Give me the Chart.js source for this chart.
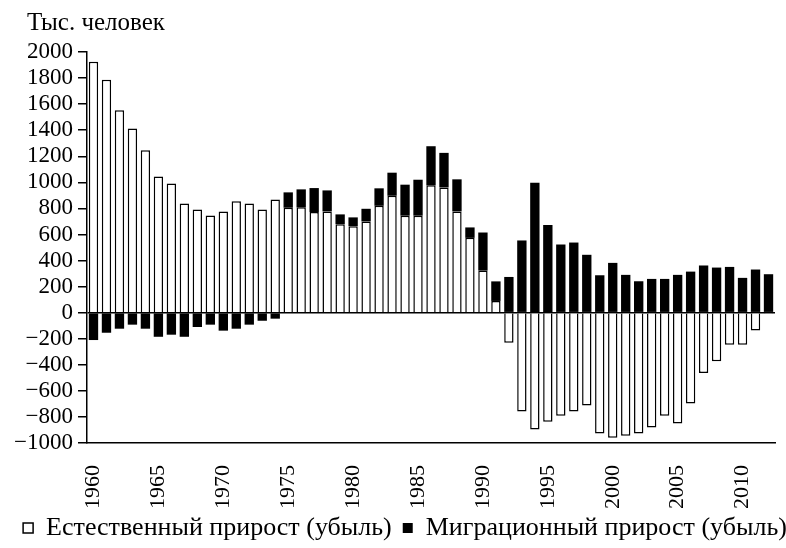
<!DOCTYPE html>
<html>
<head>
<meta charset="utf-8">
<script src="https://cdn.jsdelivr.net/npm/chart.js@4"></script>
<style>
  html, body { margin: 0; padding: 0; background: #fff; }
  #wrap { width: 786px; height: 548px; }
</style>
</head>
<body>
<div id="wrap"><canvas id="popChart" width="786" height="548"></canvas></div>
<script>
// Years on the x axis
const years = [
  1960, 1961, 1962, 1963, 1964, 1965, 1966, 1967, 1968, 1969,
  1970, 1971, 1972, 1973, 1974, 1975, 1976, 1977, 1978, 1979,
  1980, 1981, 1982, 1983, 1984, 1985, 1986, 1987, 1988, 1989,
  1990, 1991, 1992, 1993, 1994, 1995, 1996, 1997, 1998, 1999,
  2000, 2001, 2002, 2003, 2004, 2005, 2006, 2007, 2008, 2009,
  2010, 2011, 2012
];

// Natural growth (decline), thousand people
const naturalGrowth = [
  1926, 1787, 1554, 1413, 1246, 1044, 992, 838, 792, 746,
  777, 854, 838, 792, 869, 805, 808, 772, 777, 679,
  664, 700, 820, 897, 744, 744, 977, 961, 777, 574,
  323, 90, -231, -759, -897, -836, -790, -759, -713, -928,
  -959, -944, -928, -882, -790, -851, -697, -462, -372, -246,
  -246, -136, -4
];

// Migration growth (decline), thousand people
const migrationGrowth = [
  -210, -154, -123, -92, -123, -185, -169, -185, -110, -92,
  -138, -123, -92, -62, -46, 118, 138, 184, 161, 75,
  67, 97, 134, 177, 238, 276, 300, 265, 246, 80,
  292, 150, 274, 554, 997, 672, 523, 538, 444, 287,
  382, 290, 241, 259, 259, 290, 315, 362, 346, 351,
  267, 331, 295
];

const yMin = -1000;
const yMax = 2000;
const yStep = 200;
const unitLabel = 'Тыс. человек';

const serif = "'Liberation Serif', 'Times New Roman', serif";

// Unit caption in the top left corner (left of the axis labels)
const unitCaption = {
  id: 'unitCaption',
  afterLayout(chart) {
    // nudge the legend a bit to the right, like in the original
    chart.legend.left += 12;
    chart.legend.right += 12;
    // let the rotated year labels run a little below the axis box
    chart.scales.x.bottom += 20;
  },
  afterDraw(chart) {
    const c = chart.ctx;
    c.save();
    c.fillStyle = '#000';
    c.font = '25px ' + serif;
    c.textAlign = 'left';
    c.textBaseline = 'alphabetic';
    c.fillText(unitLabel, 27, 30);
    c.restore();
  }
};

const ctx = document.getElementById('popChart').getContext('2d');
const popChart = new Chart(ctx, {
  type: 'bar',
  data: {
    labels: years,
    datasets: [{
      label: 'Естественный прирост (убыль)',
      data: naturalGrowth,
      backgroundColor: '#ffffff',
      borderColor: '#000000',
      borderWidth: 1.5,
      stack: 'total'
    }, {
      label: 'Миграционный прирост (убыль)',
      data: migrationGrowth,
      backgroundColor: '#000000',
      borderColor: '#000000',
      borderWidth: 0,
      stack: 'total'
    }]
  },
  plugins: [unitCaption],
  options: {
    responsive: false,
    animation: false,
    layout: { padding: { left: 0, right: 0, top: 52, bottom: -3 } },
    datasets: {
      bar: { categoryPercentage: 1, barPercentage: 0.72 }
    },
    plugins: {
      title: { display: false },
      legend: {
        position: 'bottom',
        labels: {
          color: '#000',
          font: { family: serif, size: 26 },
          usePointStyle: true,
          pointStyle: 'rect',
          boxWidth: 10,
          boxHeight: 10,
          padding: 11
        }
      },
      tooltip: { enabled: false }
    },
    scales: {
      x: {
        stacked: true,
        offset: true,
        grid: { display: false },
        border: { display: true, color: '#000', width: 1.5 },
        afterFit: function(scale) {
          scale.height = 61;
          scale.paddingLeft = 0;
          scale.paddingRight = 11;
        },
        ticks: {
          autoSkip: false,
          minRotation: 90,
          maxRotation: 90,
          padding: 14,
          color: '#000',
          font: { family: serif, size: 22 },
          callback: function(value, index) {
            const y = years[index];
            return y % 5 === 0 ? String(y) : '';
          }
        }
      },
      y: {
        stacked: true,
        min: yMin,
        max: yMax,
        afterFit: function(scale) { scale.width = 87; },
        grid: {
          drawOnChartArea: true,
          color: function(c) { return c.tick && c.tick.value === 0 ? '#000' : 'rgba(0,0,0,0)'; },
          tickColor: '#000',
          tickLength: 9,
          lineWidth: 1.5
        },
        border: { display: true, color: '#000', width: 1.5 },
        ticks: {
          stepSize: yStep,
          autoSkip: false,
          padding: 5,
          color: '#000',
          font: { family: serif, size: 23 },
          callback: function(value) {
            return value < 0 ? '\u2212' + Math.abs(value) : String(value);
          }
        }
      }
    }
  }
});
</script>
</body>
</html>
